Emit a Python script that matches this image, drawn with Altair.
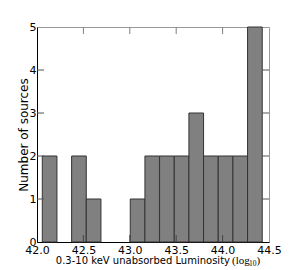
import altair as alt
import pandas as pd

bin_edges = [42.057, 42.215, 42.373, 42.531, 42.689, 42.847, 43.005, 43.163,
             43.321, 43.479, 43.637, 43.795, 43.953, 44.111, 44.269, 44.427]
counts = [2, 0, 2, 1, 0, 0, 1, 2, 2, 2, 3, 2, 2, 2, 5]
x_ticks = [42.0, 42.5, 43.0, 43.5, 44.0, 44.5]
y_ticks = [0, 1, 2, 3, 4, 5]

W, H = 232, 215

bars_df = pd.DataFrame({
    "start": bin_edges[:-1],
    "end": bin_edges[1:],
    "count": counts,
})
bars_df = bars_df[bars_df["count"] > 0]

xt_df = pd.DataFrame({"x": x_ticks[1:-1]})
yt_df = pd.DataFrame({"y": y_ticks[1:-1]})

xscale = alt.Scale(domain=[42.0, 44.5], nice=False, zero=False)
yscale = alt.Scale(domain=[0, 5], nice=False)

bars = alt.Chart(bars_df).mark_rect(
    fill="#808080", stroke="#333333", strokeWidth=1
).encode(
    x=alt.X("start:Q", scale=xscale, axis=alt.Axis(
        values=x_ticks, format=".1f", title=None, grid=False, tickSize=0,
        labelFont="DejaVu Sans", labelFontSize=11, labelColor="black",
        labelPadding=2, labelFlush=False, domainColor="black", domainWidth=1)),
    x2="end:Q",
    y=alt.Y("count:Q", scale=yscale, axis=alt.Axis(
        values=y_ticks, format="d", title="Number of sources", grid=False,
        tickSize=0, labelFont="DejaVu Sans", labelFontSize=11,
        labelColor="black", labelPadding=1, domainColor="black",
        domainWidth=1, titleFont="DejaVu Sans", titleFontSize=12,
        titleFontWeight="normal", titleColor="black", titleX=-10,
        titleY=H / 2, titleBaseline="alphabetic", titleAlign="center",
        titleAngle=270)),
    y2=alt.datum(0),
)

bottom_ticks = alt.Chart(xt_df).mark_rule(color="#444444", strokeWidth=1).encode(
    x=alt.X("x:Q", scale=xscale), y=alt.value(H), y2=alt.value(H - 7))
top_ticks = alt.Chart(xt_df).mark_rule(color="#808080", strokeWidth=1).encode(
    x=alt.X("x:Q", scale=xscale), y=alt.value(0), y2=alt.value(7))
left_ticks = alt.Chart(yt_df).mark_rule(color="#555555", strokeWidth=1).encode(
    y=alt.Y("y:Q", scale=yscale), x=alt.value(0), x2=alt.value(7))
right_ticks = alt.Chart(yt_df).mark_rule(color="#555555", strokeWidth=1).encode(
    y=alt.Y("y:Q", scale=yscale), x=alt.value(W), x2=alt.value(W - 7))

title_y = H + 22
t_main = alt.Chart(pd.DataFrame({"t": ["0.3-10 keV unabsorbed Luminosity"]})).mark_text(
    font="DejaVu Sans", fontSize=10, align="right", baseline="alphabetic", color="black"
).encode(text="t:N", x=alt.value(193), y=alt.value(title_y))
t_log = alt.Chart(pd.DataFrame({"t": ["(log"]})).mark_text(
    font="Liberation Serif", fontSize=11, align="left", baseline="alphabetic", color="black"
).encode(text="t:N", x=alt.value(195), y=alt.value(title_y))
t_sub = alt.Chart(pd.DataFrame({"t": ["10"]})).mark_text(
    font="Liberation Serif", fontSize=7.5, align="left", baseline="alphabetic", color="black"
).encode(text="t:N", x=alt.value(212), y=alt.value(title_y + 2))
t_close = alt.Chart(pd.DataFrame({"t": [")"]})).mark_text(
    font="Liberation Serif", fontSize=11, align="left", baseline="alphabetic", color="black"
).encode(text="t:N", x=alt.value(219.5), y=alt.value(title_y))

chart = alt.layer(
    bars, bottom_ticks, top_ticks, left_ticks, right_ticks,
    t_main, t_log, t_sub, t_close
).properties(
    width=W, height=H,
    autosize=alt.AutoSizeParams(type="none"),
    padding={"left": 29, "top": 19, "right": 20, "bottom": 26},
    background="white",
).configure_view(stroke="#999999", strokeWidth=1)

chart.save("out.html", embed_options={"renderer": "svg", "actions": False})
